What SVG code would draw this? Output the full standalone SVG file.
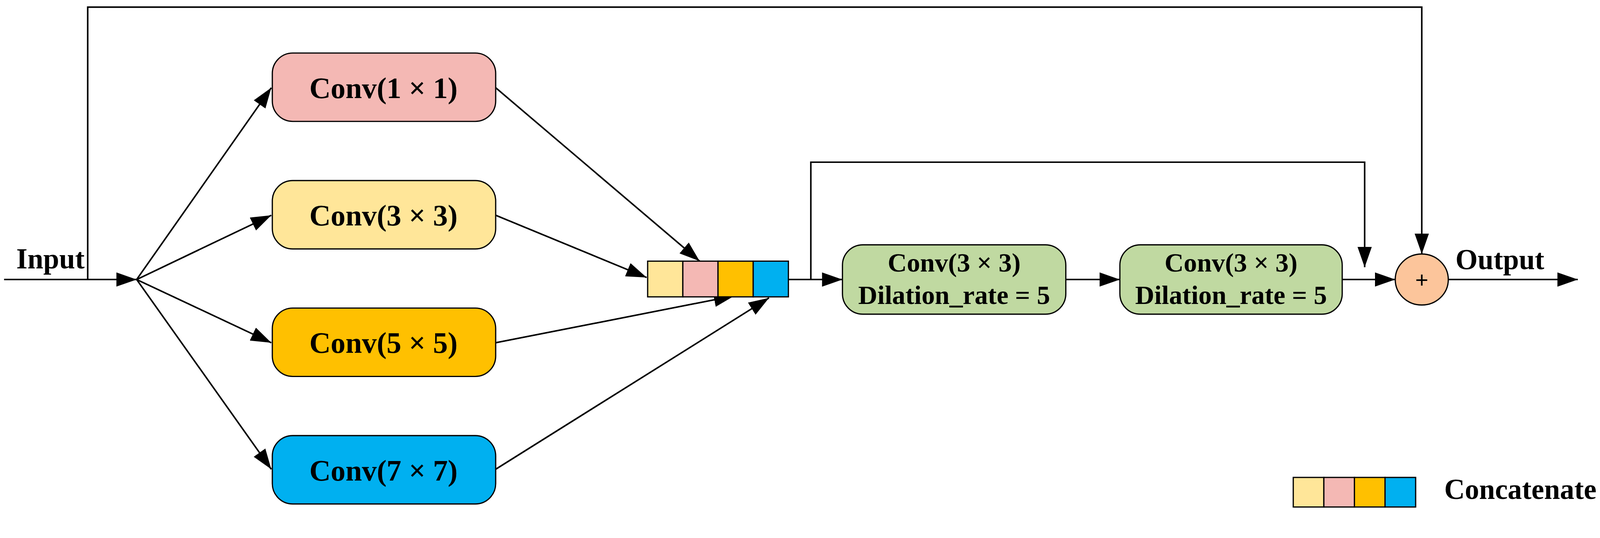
<svg xmlns="http://www.w3.org/2000/svg" width="4285" height="1377" viewBox="0 0 4285 1377">
<style>
.b{stroke:#000;stroke-width:1.2}
.l{fill:none;stroke:#000;stroke-width:1.5}
.t{font-family:"Liberation Serif",serif;font-weight:bold;font-size:29px;text-anchor:middle}
.d{font-family:"Liberation Serif",serif;font-weight:bold;font-size:26px;text-anchor:middle}
.t2{font-family:"Liberation Serif",serif;font-weight:bold;font-size:28px}
</style>
<defs>
<marker id="A" markerWidth="20" markerHeight="14" refX="20" refY="7" orient="auto" markerUnits="userSpaceOnUse"><path d="M0,0 L20,7 L0,14 z"/></marker></defs>
<rect width="4285" height="1377" fill="#fff"/>
<g transform="scale(2.611)">
<g id="connectors">
<path class="l" d="M4,274 H134" marker-end="url(#A)"/>
<path class="l" d="M86,274 V7 H1394 V249" marker-end="url(#A)"/>
<path class="l" d="M134,274 L266,86" marker-end="url(#A)"/>
<path class="l" d="M134,274 L266,211" marker-end="url(#A)"/>
<path class="l" d="M134,274 L266,336" marker-end="url(#A)"/>
<path class="l" d="M134,274 L266,460" marker-end="url(#A)"/>
<path class="l" d="M486,86 L686,256" marker-end="url(#A)"/>
<path class="l" d="M486,211 L634,272" marker-end="url(#A)"/>
<path class="l" d="M486,336 L720,290" marker-end="url(#A)"/>
<path class="l" d="M486,460 L754,292" marker-end="url(#A)"/>
<path class="l" d="M773,274 H826" marker-end="url(#A)"/>
<path class="l" d="M795,274 V159 H1338 V262" marker-end="url(#A)"/>
<path class="l" d="M1045,274 H1098" marker-end="url(#A)"/>
<path class="l" d="M1316,274 H1368" marker-end="url(#A)"/>
<path class="l" d="M1420,274 H1547" marker-end="url(#A)"/>
</g>
<g id="input"><text class="t2" x="16" y="263">Input</text></g>
<g id="output"><text class="t2" x="1427" y="264">Output</text></g>
<g id="conv1"><rect class="b" x="267" y="52" width="219" height="67" rx="20" fill="#F4B8B4"/><text class="t" x="376" y="96">Conv(1 × 1)</text></g>
<g id="conv3"><rect class="b" x="267" y="177" width="219" height="67" rx="20" fill="#FFE699"/><text class="t" x="376" y="221">Conv(3 × 3)</text></g>
<g id="conv5"><rect class="b" x="267" y="302" width="219" height="67" rx="20" fill="#FFC000"/><text class="t" x="376" y="346">Conv(5 × 5)</text></g>
<g id="conv7"><rect class="b" x="267" y="427" width="219" height="67" rx="20" fill="#00B0F0"/><text class="t" x="376" y="471">Conv(7 × 7)</text></g>
<g id="concat">
<rect class="b" x="635" y="256" width="34.5" height="35" fill="#FFE699"/>
<rect class="b" x="669.5" y="256" width="34.5" height="35" fill="#F4B8B4"/>
<rect class="b" x="704" y="256" width="34.5" height="35" fill="#FFC000"/>
<rect class="b" x="738.5" y="256" width="34.5" height="35" fill="#00B0F0"/>
</g>
<g id="dil1"><rect class="b" x="826" y="240" width="219" height="68" rx="20" fill="#C0D9A1"/><text class="d" x="935.5" y="266">Conv(3 × 3)</text><text class="d" x="935.5" y="298">Dilation_rate = 5</text></g>
<g id="dil2"><rect class="b" x="1098" y="240" width="218" height="68" rx="20" fill="#C0D9A1"/><text class="d" x="1207" y="266">Conv(3 × 3)</text><text class="d" x="1207" y="298">Dilation_rate = 5</text></g>
<g id="add"><ellipse class="b" cx="1394" cy="274" rx="26" ry="25" fill="#FCC59B"/><text x="1394" y="282" text-anchor="middle" font-family="Liberation Sans,sans-serif" font-size="22">+</text></g>
<g id="legend">
<rect class="b" x="1268" y="468" width="30" height="29" fill="#FFE699"/>
<rect class="b" x="1298" y="468" width="30" height="29" fill="#F4B8B4"/>
<rect class="b" x="1328" y="468" width="30" height="29" fill="#FFC000"/>
<rect class="b" x="1358" y="468" width="30" height="29" fill="#00B0F0"/>
<text class="t2" x="1416" y="489" font-size="25">Concatenate</text>
</g>
</g>
</svg>
